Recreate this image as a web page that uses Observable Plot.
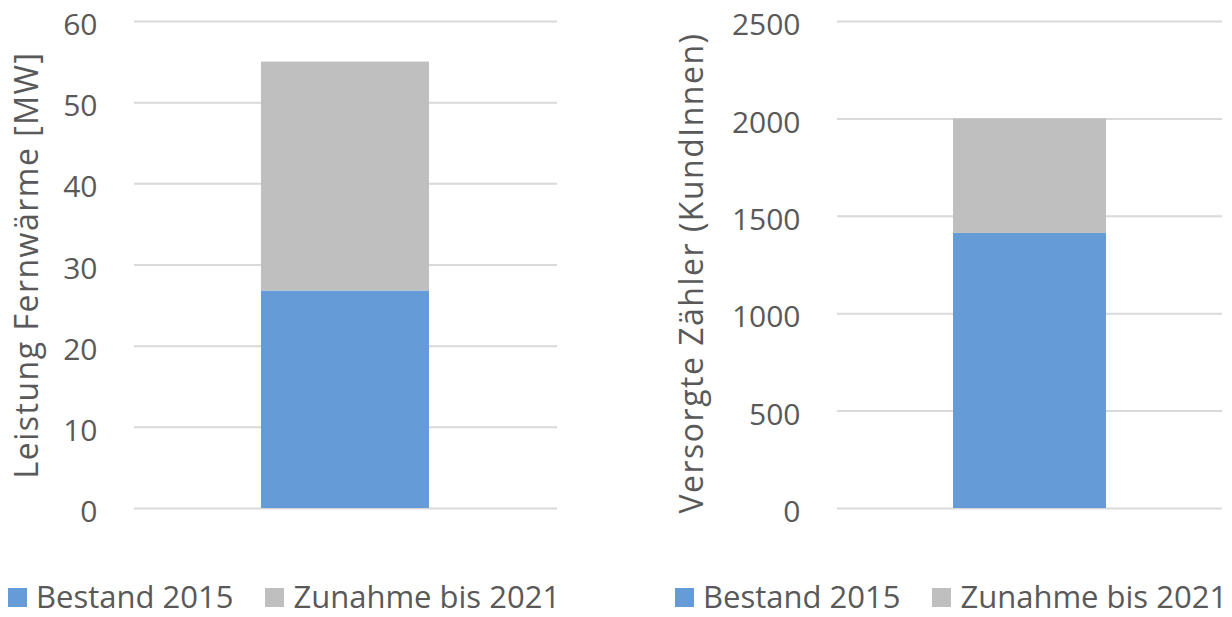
<!DOCTYPE html>
<html><head><meta charset="utf-8">
<script src="https://cdn.jsdelivr.net/npm/d3@7"></script>
<script src="https://cdn.jsdelivr.net/npm/@observablehq/plot@0.6"></script>
<style>
body{margin:0;background:#fff;}
#wrap{position:relative;width:1232px;height:617px;font-family:"Open Sans";color:#595959;}
.chart{position:absolute;top:0;}
.legend{position:absolute;top:580px;display:flex;align-items:center;font-size:31px;line-height:32px;white-space:nowrap;}
.item{display:flex;align-items:center;}
.sw{display:inline-block;width:19px;height:19px;margin-right:9px;position:relative;top:1px;}
</style></head>
<body><div id="wrap"></div>
<script>
const seriesNames = ["Bestand 2015", "Zunahme bis 2021"];
const seriesColors = ["#659BD7", "#BFBFBF"];
const categories = ["Fernwärme"];
const leistungValues = [26.8, 28.2];
const zaehlerValues = [1412, 588];
const leistungTicks = [0, 10, 20, 30, 40, 50, 60];
const zaehlerTicks = [0, 500, 1000, 1500, 2000, 2500];
const leistungLabel = "Leistung Fernwärme [MW]";
const zaehlerLabel = "Versorgte Zähler (KundInnen)";

function makeChart(values, ticks, label, opts) {
  const data = seriesNames.map((s, i) => ({cat: categories[0], series: s, value: values[i]}));
  const svg = Plot.plot({
    width: opts.width, height: 540,
    marginTop: 21, marginBottom: 32, marginLeft: opts.marginLeft, marginRight: opts.marginRight,
    style: {fontFamily: "Open Sans", fontSize: "30px", color: "#595959", background: "transparent", overflow: "visible"},
    x: {domain: categories, padding: 0.43, axis: null},
    y: {domain: [ticks[0], ticks[ticks.length - 1]]},
    color: {domain: seriesNames, range: seriesColors},
    marks: [
      Plot.gridY(ticks, {stroke: "#D9D9D9", strokeOpacity: 1, strokeWidth: 2}),
      Plot.barY(data, {x: "cat", y: "value", fill: "series"}),
      Plot.axisY(ticks, {tickSize: 0, tickPadding: 37, tickFormat: d => String(d), fontSize: 30, dy: 4, label: null}),
      Plot.text([label], {frameAnchor: "left", rotate: -90, dx: opts.labelDx, dy: opts.labelDy,
        fontSize: 32, textAnchor: "middle", fill: "#595959", className: "ylab"})
    ]
  });
  svg.querySelectorAll(".ylab text").forEach(t => t.style.letterSpacing = "1.5px");
  return svg;
}

function makeLegend(left) {
  const div = document.createElement("div");
  div.className = "legend";
  div.style.left = left + "px";
  seriesNames.forEach((s, i) => {
    const it = document.createElement("span");
    it.className = "item";
    it.style.marginRight = i === 0 ? "32px" : "0";
    const sw = document.createElement("span");
    sw.className = "sw";
    sw.style.background = seriesColors[i];
    const t = document.createElement("span");
    t.textContent = s;
    it.appendChild(sw); it.appendChild(t);
    div.appendChild(it);
  });
  return div;
}

const wrap = document.getElementById("wrap");
const c1 = makeChart(leistungValues, leistungTicks, leistungLabel, {width: 616, marginLeft: 134, marginRight: 59, labelDx: -107, labelDy: 0});
c1.classList.add("chart"); c1.style.left = "0px";
const c2 = makeChart(zaehlerValues, zaehlerTicks, zaehlerLabel, {width: 616, marginLeft: 221, marginRight: 10, labelDx: -145, labelDy: 8});
c2.classList.add("chart"); c2.style.left = "616px";
wrap.appendChild(c1); wrap.appendChild(c2);
wrap.appendChild(makeLegend(8));
wrap.appendChild(makeLegend(675));
</script>
</body></html>
